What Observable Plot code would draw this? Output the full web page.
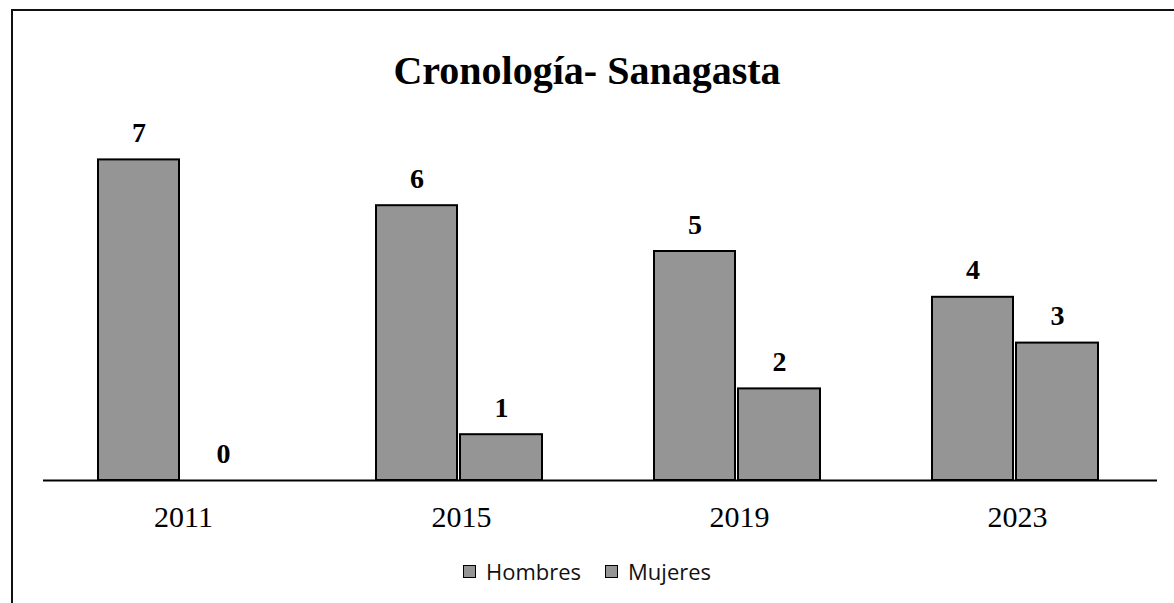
<!DOCTYPE html>
<html>
<head>
<meta charset="utf-8">
<script src="https://cdn.jsdelivr.net/npm/d3@7"></script>
<script src="https://cdn.jsdelivr.net/npm/@observablehq/plot@0.6"></script>
<style>
  html, body { margin: 0; padding: 0; background: #fff; }
  #page { position: relative; width: 1174px; height: 603px; overflow: hidden; background: #fff; }
  #frame { position: absolute; left: 11px; top: 9px; width: 1180px; height: 620px;
           border-left: 2px solid #111; border-top: 2px solid #111; box-sizing: border-box; }
  #title { position: absolute; left: 0; width: 1174px; top: 51px; text-align: center;
           font-family: "Liberation Serif", "DejaVu Serif", serif; font-weight: bold; font-size: 40px; color: #000; line-height: 1; }
  #chart { position: absolute; left: 0; top: 100px; }
  #legend { position: absolute; top: 556px; left: 0; width: 1174px; display: flex; justify-content: center;
            font-family: "Open Sans", sans-serif; font-size: 22px; color: #111; }
  .item { display: flex; align-items: center; margin: 0 12px; }
  .sw { width: 11px; height: 11px; border: 1.5px solid #000; background: #959595; margin-right: 10px; }
</style>
</head>
<body>
<div id="page">
  <div id="frame"></div>
  <div id="title">Cronología- Sanagasta</div>
  <div id="chart"></div>
  <div id="legend"></div>
</div>
<script>
const years = ["2011", "2015", "2019", "2023"];
const series = ["Hombres", "Mujeres"];
const hombres = [7, 6, 5, 4];
const mujeres = [0, 1, 2, 3];

const data = years.flatMap((year, i) => [
  {year, serie: series[0], value: hombres[i]},
  {year, serie: series[1], value: mujeres[i]}
]);
const hData = data.filter(d => d.serie === "Hombres");
const mData = data.filter(d => d.serie === "Mujeres");

const barFill = "#959595";
const serif = "Liberation Serif";

const chart = Plot.plot({
  width: 1174,
  height: 440,
  marginLeft: 43,
  marginRight: 17,
  marginTop: 36.5,
  marginBottom: 60,
  style: {fontFamily: serif, color: "#000", background: "transparent"},
  x: {domain: years, padding: 0, label: null},
  y: {domain: [0, 7.5], axis: null},
  marks: [
    Plot.barY(hData.filter(d => d.value > 0), {x: "year", y: "value", fill: barFill, stroke: "#000", strokeWidth: 2, insetLeft: 54, insetRight: 143}),
    Plot.barY(mData.filter(d => d.value > 0), {x: "year", y: "value", fill: barFill, stroke: "#000", strokeWidth: 2, insetLeft: 138, insetRight: 58}),
    Plot.ruleY([0], {stroke: "#000", strokeWidth: 2}),
    Plot.text(hData, {x: "year", y: "value", text: d => String(d.value), dx: -44.5, dy: -18, lineAnchor: "bottom",
      fontSize: 28, fontWeight: "bold", fontFamily: serif, fill: "#000"}),
    Plot.text(mData, {x: "year", y: "value", text: d => String(d.value), dx: 40, dy: -18, lineAnchor: "bottom",
      fontSize: 28, fontWeight: "bold", fontFamily: serif, fill: "#000"}),
    Plot.axisX({tickSize: 0, tickPadding: 25, fontSize: 30, fontFamily: serif, label: null})
  ]
});
document.getElementById("chart").appendChild(chart);

const legend = document.getElementById("legend");
series.forEach(s => {
  const item = document.createElement("div");
  item.className = "item";
  const sw = document.createElement("div");
  sw.className = "sw";
  const lab = document.createElement("span");
  lab.textContent = s;
  item.appendChild(sw);
  item.appendChild(lab);
  legend.appendChild(item);
});
</script>
</body>
</html>
